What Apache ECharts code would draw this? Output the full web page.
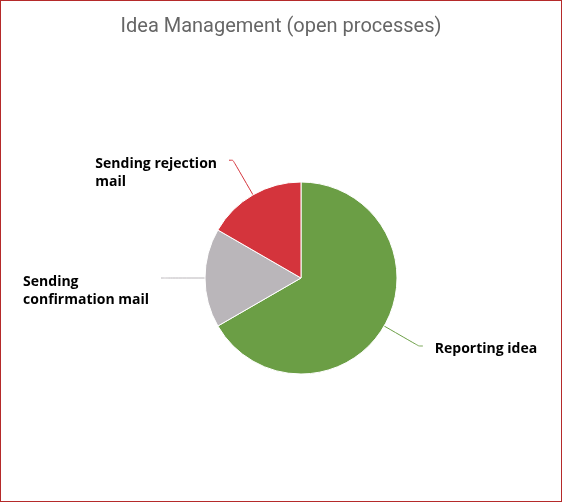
<!DOCTYPE html>
<html>
<head>
<meta charset="utf-8">
<script src="https://cdn.jsdelivr.net/npm/echarts@6/dist/echarts.min.js"></script>
<style>
  html, body { margin: 0; padding: 0; background: #fff; }
  #chart { width: 562px; height: 502px; box-sizing: border-box; border: 1px solid #b52a2a; }
</style>
</head>
<body>
<div id="chart"></div>
<script>
// data
var categories = ["Reporting idea", "Sending confirmation mail", "Sending rejection mail"];
var labelTexts = ["Reporting idea", "Sending\nconfirmation mail", "Sending rejection\nmail"];
var values = [4, 1, 1];
var colors = ["#6b9e45", "#bab6ba", "#d4343c"];

var chart = echarts.init(document.getElementById("chart"));

var seriesData = categories.map(function (name, i) {
  var multi = labelTexts[i].indexOf("\n") >= 0;
  return {
    name: name,
    value: values[i],
    label: { padding: multi ? [26, 0, 0, 0] : [6, 0, 0, 0] }
  };
});

chart.setOption({
  color: colors,
  title: {
    text: "Idea Management (open processes)",
    left: "center",
    top: 11,
    textStyle: { fontFamily: "Roboto", fontWeight: "normal", fontSize: 20, color: "#666666" }
  },
  series: [
    {
      type: "pie",
      center: [300, 277],
      radius: 96,
      startAngle: 90,
      clockwise: true,
      animation: false,
      itemStyle: { borderColor: "#fff", borderWidth: 1 },
      data: seriesData,
      label: {
        formatter: function (p) {
          var i = categories.indexOf(p.name);
          return labelTexts[i].split("\n").map(function (s) {
            return "{a|" + s + "}";
          }).join("\n");
        },
        distanceToLabelLine: 12,
        rich: {
          a: {
            align: "left",
            fontFamily: "Open Sans",
            fontWeight: "bold",
            fontSize: 14,
            lineHeight: 18,
            color: "#000"
          }
        }
      },
      labelLine: { length: 40, length2: 4, smooth: 0.15, lineStyle: { width: 1 } },
      emphasis: { disabled: true }
    }
  ]
});
</script>
</body>
</html>
